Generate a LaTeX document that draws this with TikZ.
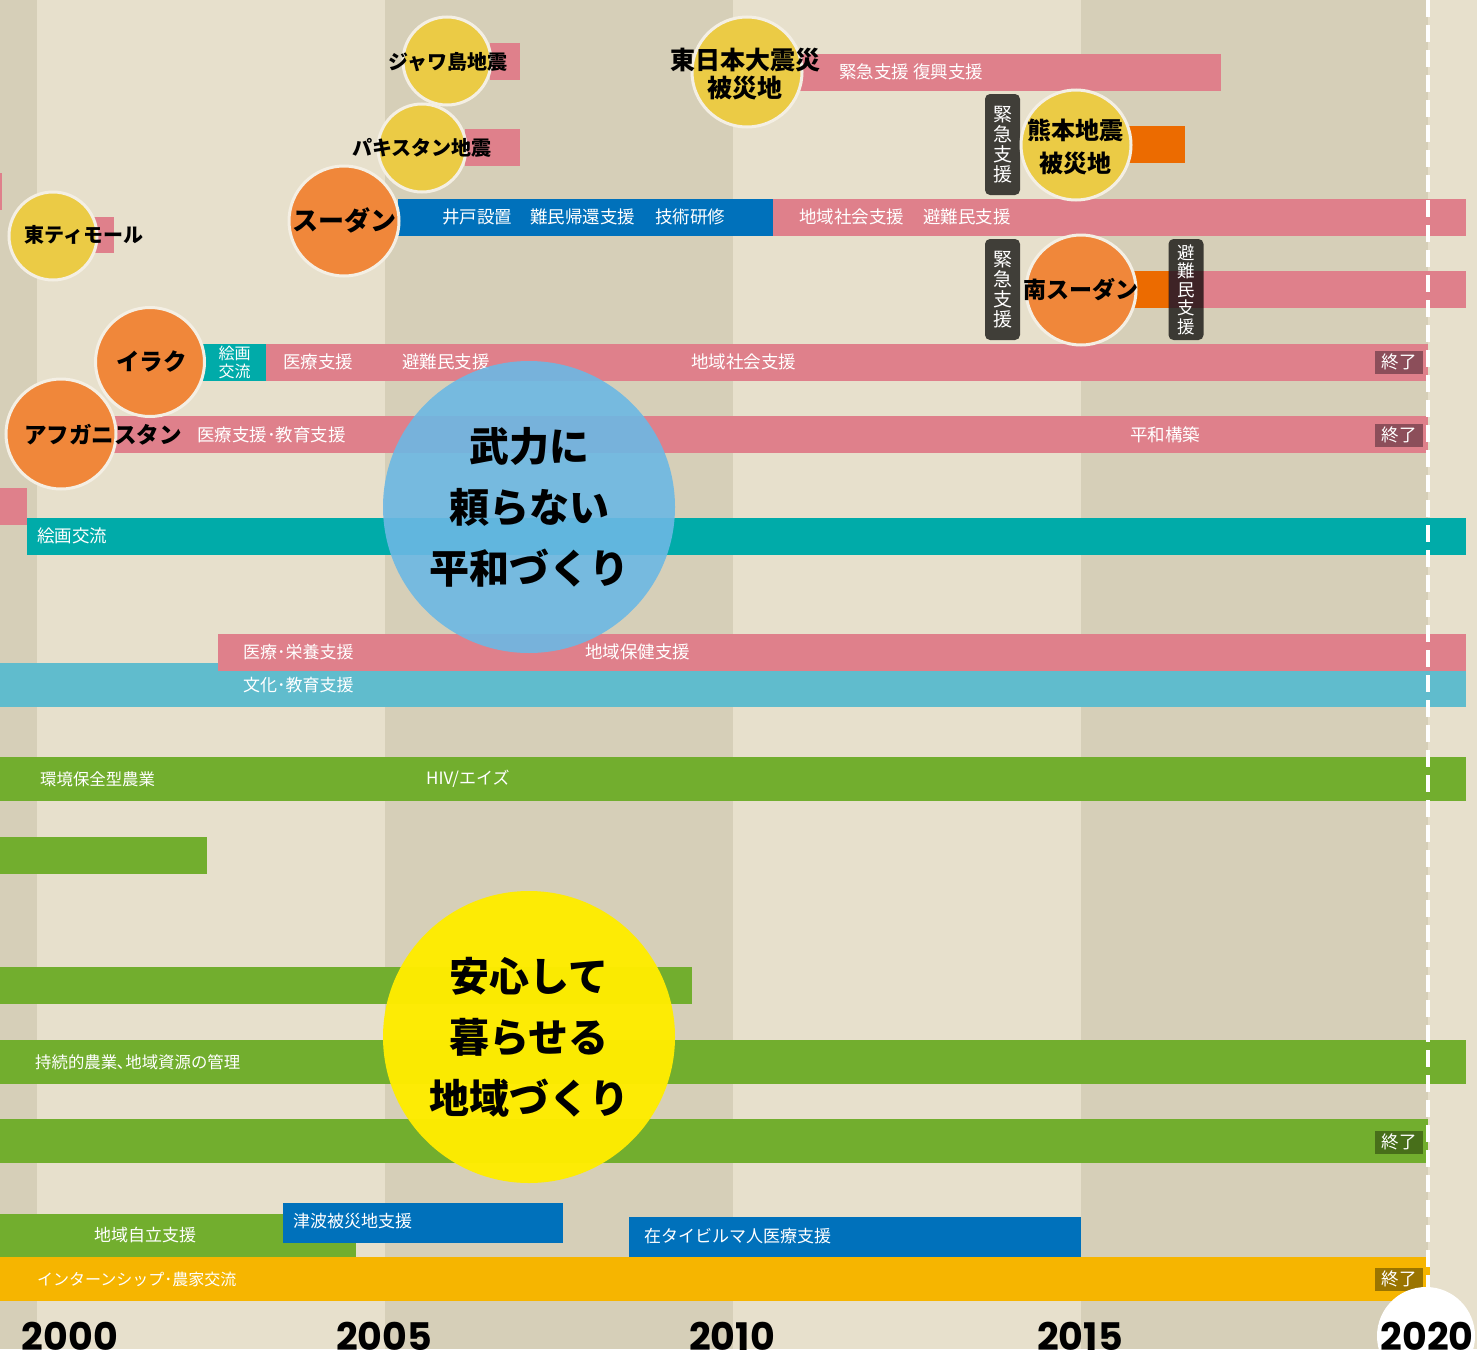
\documentclass[tikz,border=0pt]{standalone}
\usepackage{fontspec}
\newfontfamily\jp{Noto Sans CJK JP}
\newfontfamily\yrf{Poppins}
\definecolor{bgd}{HTML}{D6CFB8}
\definecolor{bgl}{HTML}{E7E0CC}
\definecolor{pk}{HTML}{DF808B}
\definecolor{bl}{HTML}{0071BB}
\definecolor{tl}{HTML}{00ABA9}
\definecolor{lb}{HTML}{60BCCD}
\definecolor{gr}{HTML}{72AE2E}
\definecolor{am}{HTML}{F6B500}
\definecolor{orc}{HTML}{F0873A}
\definecolor{orb}{HTML}{EC6B00}
\definecolor{yc}{HTML}{EBCB45}
\definecolor{bigb}{HTML}{6CB8E4}
\definecolor{bigy}{HTML}{FFEC00}
\definecolor{endpk}{HTML}{8C4E5A}
\definecolor{endgr}{HTML}{486F1A}
\definecolor{endam}{HTML}{9A7400}
\definecolor{ring}{HTML}{F4EFE4}
\tikzset{
  lbl/.style={anchor=west, inner sep=0pt, text=white, font=\jp\fontsize{17.5}{20}\selectfont},
  lblc/.style={anchor=west, inner sep=0pt, text=white, font=\jp\fontsize{#1}{20}\selectfont},
  disc/.style={circle, draw=ring, line width=3pt, inner sep=0pt, minimum size=#1},
  ctext/.style={inner sep=0pt, text=black, font=\jp\bfseries\fontsize{#1}{#1}\selectfont},
  endbox/.style={fill=#1, text=white, inner sep=0pt, minimum width=48pt, minimum height=23pt, font=\jp\fontsize{17.5}{20}\selectfont},
  vbox/.style={fill=black, fill opacity=0.72, text opacity=1, text=white, rounded corners=5pt,
    minimum width=35pt, minimum height=101pt, inner sep=0pt, align=center},
  big/.style={circle, minimum size=292pt, inner sep=0pt, align=center, text=black,
    font=\jp\bfseries\fontsize{40}{61}\selectfont},
  year/.style={anchor=base, inner sep=0pt, text=black, font=\yrf\bfseries\fontsize{38}{38}\selectfont},
  dashline/.style={draw=white, line width=4pt, dash pattern=on 17pt off 8pt},
}
\begin{document}
\begin{tikzpicture}[x=1pt,y=-1pt]
\useasboundingbox (0,0) rectangle (1477,1349);
\clip (0,0) rectangle (1477,1349);
% background year bands
\fill[bgd] (0,0) rectangle (37,1349);
\fill[bgl] (37,0) rectangle (385,1349);
\fill[bgd] (385,0) rectangle (733,1349);
\fill[bgl] (733,0) rectangle (1081,1349);
\fill[bgd] (1081,0) rectangle (1428,1349);
\fill[bgl] (1428,0) rectangle (1477,1349);

% bars
\fill[pk] (490,43) rectangle (520,80);
\fill[pk] (465,129) rectangle (520,166);
\fill[pk] (799,54) rectangle (1221,91);
\fill[orb] (1110,126) rectangle (1185,163);
\fill[pk] (0,173) rectangle (2,210);
\fill[bl] (398,199) rectangle (773,236);
\fill[pk] (773,199) rectangle (1466,236);
\fill[pk] (93,217) rectangle (114,253);
\fill[orb] (1110,271) rectangle (1169,308);
\fill[pk] (1169,271) rectangle (1466,308);
\fill[tl] (203,344) rectangle (266,381);
\fill[pk] (266,344) rectangle (1428,381);
\fill[pk] (100,416) rectangle (1428,453);
\fill[pk] (0,488) rectangle (27,525);
\fill[tl] (27,518) rectangle (1466,555);
\fill[lb] (0,663) rectangle (1466,707);
\fill[pk] (218,634) rectangle (1466,671);
\fill[gr] (0,757) rectangle (1466,801);
\fill[gr] (0,837) rectangle (207,874);
\fill[gr] (0,967) rectangle (692,1004);
\fill[gr] (0,1040) rectangle (1466,1084);
\fill[gr] (0,1119) rectangle (1428,1163);
\fill[gr] (0,1214) rectangle (356,1257);
\fill[bl] (283,1203) rectangle (563,1243);
\fill[bl] (629,1217) rectangle (1081,1257);
\fill[am] (0,1257) rectangle (1430,1301);

% bar labels
\node[lbl] (t01) at (839,72) {緊急支援 復興支援};
\node[lbl] (t02) at (442,217) {井戸設置};
\node[lbl] (t03) at (530,217) {難民帰還支援};
\node[lbl] (t04) at (655,217) {技術研修};
\node[lbl] (t05) at (799,217) {地域社会支援};
\node[lbl] (t06) at (923,217) {避難民支援};
\node[lbl] (t07) at (283,362) {医療支援};
\node[lbl] (t08) at (402,362) {避難民支援};
\node[lbl] (t09) at (691,362) {地域社会支援};
\node[lbl] (t10) at (197,435) {医療支援･教育支援};
\node[lbl] (t11) at (1130,435) {平和構築};
\node[lbl] (t12) at (37,536) {絵画交流};
\node[lblc=17] (t13) at (243,652) {医療･栄養支援};
\node[lbl] (t14) at (585,652) {地域保健支援};
\node[lblc=17] (t15) at (243,685) {文化･教育支援};
\node[lblc=16.4] (t16) at (40,779) {環境保全型農業};
\node[lblc=17] (t17) at (426,779) {HIV/エイズ};
\node[lblc=16.4] (t18) at (35,1062) {持続的農業､地域資源の管理};
\node[lblc=17] (t19) at (94,1235) {地域自立支援};
\node[lblc=17] (t20) at (293,1221) {津波被災地支援};
\node[lblc=17] (t21) at (644,1236) {在タイビルマ人医療支援};
\node[lblc=16] (t22) at (37,1279) {インターンシップ･農家交流};
\node[inner sep=0pt, text=white, align=center, font=\jp\fontsize{16}{18}\selectfont] (t23) at (234.5,362.5) {絵画\\交流};

% end markers
\node[endbox=endpk] (e1) at (1399,362) {終了};
\node[endbox=endpk] (e2) at (1399,435) {終了};
\node[endbox=endgr] (e3) at (1399,1142) {終了};
\node[endbox=endam] (e4) at (1399,1279) {終了};

% dashed 2020 line
\coordinate (dtop) at (1428,0);
\coordinate (dbot) at (1428,1295);
\draw[dashline] (dtop) -- (dbot);

% vertical tags
\node[vbox, font=\jp\fontsize{19}{20}\selectfont] (v1) at (1002.5,144.5) {緊\\急\\支\\援};
\node[vbox, font=\jp\fontsize{19}{20}\selectfont] (v2) at (1002.5,289.5) {緊\\急\\支\\援};

% country / disaster circles
\node[disc=88pt, fill=yc] (java) at (447,61) {};
\node[ctext=20, anchor=west] (javat) at (388,62) {ジャワ島地震};
\node[disc=110pt, fill=yc] (tohoku) at (747,72) {};
\node[inner sep=0pt, align=center, font=\jp\bfseries\fontsize{25}{28}\selectfont] (tohokut) at (745,74) {東日本大震災\\被災地};
\node[disc=88pt, fill=yc] (pak) at (422,148) {};
\node[ctext=20, anchor=west] (pakt) at (352,148) {パキスタン地震};
\node[disc=110pt, fill=yc] (kuma) at (1076,145) {};
\node[inner sep=0pt, align=center, font=\jp\bfseries\fontsize{24}{33}\selectfont] (kumat) at (1075,146.5) {熊本地震\\被災地};
\node[disc=110pt, fill=orc] (sudan) at (344,221) {};
\node[ctext=26, anchor=west] (sudant) at (292,220) {スーダン};
\node[disc=88pt, fill=yc] (timor) at (53,236) {};
\node[ctext=20, anchor=west] (timort) at (24,235) {東ティモール};
\node[disc=110pt, fill=orc] (ssudan) at (1081,290) {};
\node[ctext=23, anchor=west] (ssudant) at (1023,290) {南スーダン};
\node[vbox, font=\jp\fontsize{17.5}{18.5}\selectfont] (v3) at (1186,289.5) {避\\難\\民\\支\\援};
\node[disc=109pt, fill=orc] (iraq) at (150,362) {};
\node[ctext=23.5, anchor=west] (iraqt) at (116,362) {イラク};
\node[disc=110pt, fill=orc] (afg) at (61,434) {};
\node[ctext=22.5, anchor=west] (afgt) at (24,435) {アフガニスタン};

% theme circles
\node[big, fill=bigb, fill opacity=0.9, text opacity=1] (peace) at (529,507) {武力に\\頼らない\\平和づくり};
\node[big, fill=bigy, fill opacity=0.97, text opacity=1] (life) at (529,1037) {安心して\\暮らせる\\地域づくり};

% year axis
\node[circle, fill=white, minimum size=98pt, inner sep=0pt] (c2020) at (1426,1336) {};
\node[year] (y2000) at (70,1350) {2000};
\node[year] (y2005) at (384,1350) {2005};
\node[year] (y2010) at (732,1350) {2010};
\node[year] (y2015) at (1080,1350) {2015};
\node[year] (y2020) at (1427,1350) {2020};
\end{tikzpicture}
\end{document}
